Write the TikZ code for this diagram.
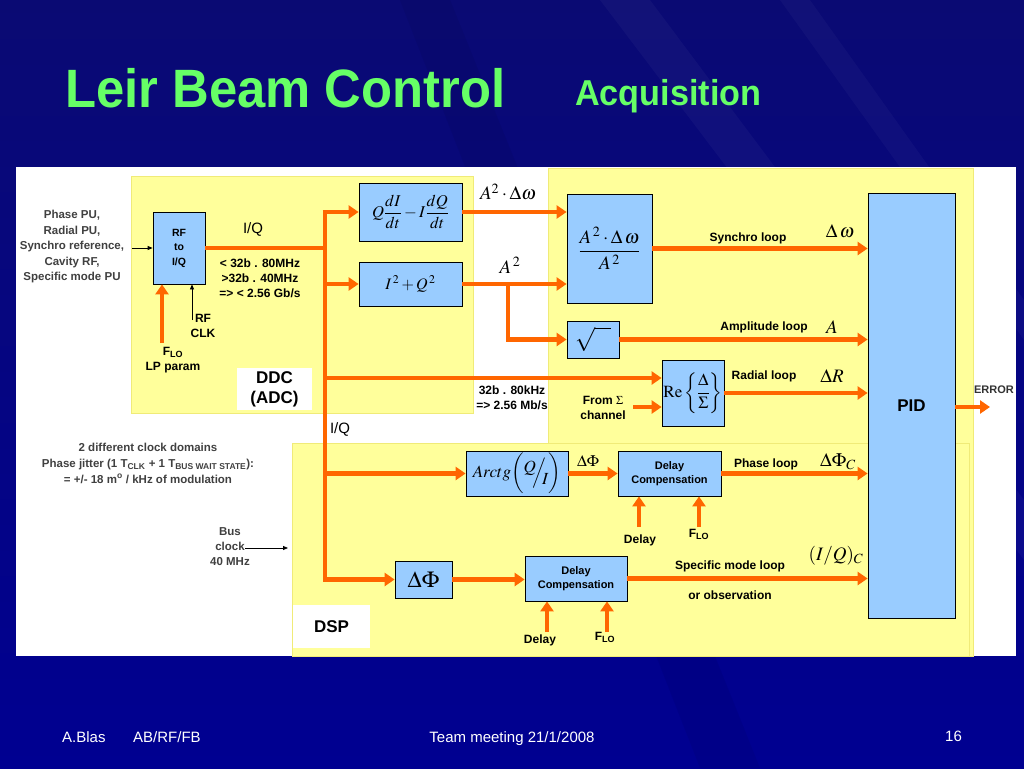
\documentclass[tikz,border=0pt]{standalone}
\usepackage{graphicx}
\usepackage{amsmath}
\usepackage{mathptmx}
\usepackage{fontspec}
\setmainfont{Liberation Sans}
\usetikzlibrary{arrows.meta,calc}
\definecolor{ylw}{RGB}{255,255,155}
\definecolor{ylwedge}{RGB}{240,235,120}
\definecolor{lblue}{RGB}{153,204,255}
\definecolor{orng}{RGB}{255,102,0}
\definecolor{tgreen}{RGB}{102,255,102}
\definecolor{bgtop}{RGB}{10,10,115}
\definecolor{bgbot}{RGB}{0,0,145}
\newcommand\fsz[2]{\fontsize{#1}{#2}\selectfont}
\tikzset{
 box/.style={draw=black, line width=0.8pt, fill=lblue, inner sep=0pt, align=center},
 lbl/.style={inner sep=0pt, align=center, font=\fsz{12}{15}\bfseries},
 mlbl/.style={inner sep=0pt, font=\fsz{19}{22}},
 oarrow/.style={draw=orng, line width=4.5pt, line join=miter, -{Triangle[length=10pt,width=13pt]}},
 oline/.style={draw=orng, line width=4.5pt},
 tarrow/.style={draw=black, line width=0.8pt, -{Triangle[length=5pt,width=4pt]}},
 ybox/.style={fill=ylw, draw=ylwedge, line width=0.6pt},
 wbox/.style={fill=white, draw=none, inner sep=0pt, align=center, font=\fsz{17}{20}\bfseries},
 foot/.style={inner sep=0pt, text=white, font=\fsz{15}{18}},
}
\begin{document}
\begin{tikzpicture}[x=1pt,y=-1pt]
\useasboundingbox (0,0) rectangle (1024,768);
% background
\shade[top color=bgtop, bottom color=bgbot] (0,0) rectangle (1024,768);
\fill[white, opacity=0.035] (600,0) -- (650,0) -- (1024,500) -- (1024,560) -- cycle;
\fill[white, opacity=0.03] (780,0) -- (810,0) -- (1024,300) -- (1024,340) -- cycle;
\fill[black, opacity=0.05] (400,0) -- (450,0) -- (760,768) -- (700,768) -- cycle;
% title
\node[anchor=base west, inner sep=0pt, text=tgreen, font=\fsz{54}{60}\bfseries] (title) at (65,107) {\scalebox{0.94}[1]{Leir Beam Control}};
\node[anchor=base west, inner sep=0pt, text=tgreen, font=\fsz{36}{40}\bfseries] (sub) at (575,105) {\scalebox{0.95}[1]{Acquisition}};
% panel
\fill[white] (16,167) rectangle (1016,656);
\filldraw[ybox] (131,176) rectangle (473,413);
\filldraw[ybox] (548,168) rectangle (973,656);
\filldraw[ybox] (292,443) rectangle (969,656);
\node[wbox, minimum width=75pt, minimum height=42pt] (ddc) at (274.5,389) {DDC\\(ADC)};
\node[wbox, minimum width=77pt, minimum height=43pt] (dsp) at (331.5,626.5) {DSP};
% boxes
\node[box, minimum width=52pt, minimum height=72pt, font=\fsz{10.5}{14.5}\bfseries] (rf) at (179,248) {RF\\to\\I/Q};
\node[box, minimum width=103pt, minimum height=58pt, font=\fsz{16.5}{18}] (qd) at (410.5,212) {$Q\dfrac{dI}{dt}-I\dfrac{dQ}{dt}$};
\node[box, minimum width=103pt, minimum height=44pt, font=\fsz{16}{18}] (iq2) at (410.5,284) {$I^{\,2}+Q^{\,2}$};
\node[box, minimum width=85pt, minimum height=109pt, font=\fsz{19}{21}] (ratio) at (609.5,248.5) {$\dfrac{A^{\,2}\cdot\Delta\,\omega}{A^{\,2}}$};
\node[box, minimum width=52pt, minimum height=37pt, font=\fsz{24}{26}] (sqrt) at (593,339.5) {$\sqrt{\phantom{w}}$};
\node[box, minimum width=62pt, minimum height=66pt, font=\fsz{17}{19}] (re) at (693,393) {$\mathrm{Re}\left\{\dfrac{\Delta}{\Sigma}\right\}$};
\node[box, minimum width=87pt, minimum height=425pt, font=\fsz{17}{20}\bfseries] (pid) at (911.5,405.5) {PID};
\node[box, minimum width=102pt, minimum height=45pt, font=\fsz{17}{19}] (arctg) at (517,473.5) {$Arctg\biggl(\raisebox{0.55ex}{$Q$}\!\!\Big/\!\!\raisebox{-0.75ex}{$I$}\biggr)$};
\node[box, minimum width=103pt, minimum height=45pt, font=\fsz{11}{14}\bfseries] (dc1) at (669.5,473.5) {Delay\\Compensation};
\node[box, minimum width=57pt, minimum height=37pt, font=\fsz{23}{25}] (dphi) at (423.5,579.5) {$\Delta\Phi$};
\node[box, minimum width=102pt, minimum height=45pt, font=\fsz{11}{14}\bfseries] (dc2) at (576,578.5) {Delay\\Compensation};
% coordinates
\coordinate (bt) at (325,212);
\coordinate (br) at (508,284);
\coordinate (reA) at ($(re.west)+(0,-15)$);
\coordinate (sig) at (633,407);
\coordinate (err) at (990,407);
\coordinate (flo) at (162,343);
\coordinate (clk) at (192,320);
\coordinate (inp) at (132,248);
\coordinate (bclkA) at (245,548);
\coordinate (bclkB) at (288,548);
\coordinate (d1a) at (639,527);
\coordinate (d1b) at (699,527);
\coordinate (d2a) at (547,632);
\coordinate (d2b) at (607,632);
% orange connectors
\draw[oline] (rf.east) -- (rf.east -| bt);
\draw[oarrow] ($(bt)+(-2.25,0)$) -- (qd.west);
\draw[oarrow] (bt) -- (bt |- dphi.west) -- (dphi.west);
\draw[oarrow] (bt |- iq2.west) -- (iq2.west);
\draw[oarrow] (bt |- reA) -- (reA);
\draw[oarrow] (bt |- arctg.west) -- (arctg.west);
\draw[oarrow] (qd.east) -- (qd.east -| ratio.west);
\draw[oarrow] (iq2.east) -- (iq2.east -| ratio.west);
\draw[oarrow] (br) -- (br |- sqrt.west) -- (sqrt.west);
\draw[oarrow] (ratio.east) -- (ratio.east -| pid.west);
\draw[oarrow] (sqrt.east) -- (sqrt.east -| pid.west);
\draw[oarrow] (re.east) -- (re.east -| pid.west);
\draw[oarrow] (sig) -- (sig -| re.west);
\draw[oarrow] (arctg.east) -- (dc1.west);
\draw[oarrow] (dc1.east) -- (dc1.east -| pid.west);
\draw[oarrow] (dphi.east) -- (dphi.east -| dc2.west);
\draw[oarrow] (dc2.east) -- (dc2.east -| pid.west);
\draw[oarrow] (pid.east |- err) -- (err);
\draw[oarrow] (flo) -- (flo |- rf.south);
\draw[oarrow] (d1a) -- (d1a |- dc1.south);
\draw[oarrow] (d1b) -- (d1b |- dc1.south);
\draw[oarrow] (d2a) -- (d2a |- dc2.south);
\draw[oarrow] (d2b) -- (d2b |- dc2.south);
% thin black arrows
\draw[tarrow] (inp) -- (rf.west);
\draw[tarrow] (clk) -- (clk |- rf.south);
\draw[tarrow] (bclkA) -- (bclkB);
% labels
\node[lbl, font=\fsz{11.5}{15.5}\bfseries, text=black!75] (inputs) at (72,247) {Phase PU,\\Radial PU,\\Synchro reference,\\Cavity RF,\\Specific mode PU};
\node[lbl, font=\fsz{15}{18}] (iqa) at (253,229) {I/Q};
\node[lbl] (rate1) at (260,278) {< 32b . 80MHz\\>32b . 40MHz\\=> < 2.56 Gb/s};
\node[lbl] (clklbl) at (203,326) {RF\\CLK};
\node[lbl] (flolbl) at (173,360) {F\textsubscript{LO}\\LP param};
\node[mlbl] (a2dw) at (508,192) {$A^{2}\cdot\Delta\omega$};
\node[mlbl] (a2) at (510,265) {$A^{\,2}$};
\node[lbl] (sync) at (748,238) {Synchro loop};
\node[mlbl] (dw) at (840,231) {$\Delta\,\omega$};
\node[lbl] (ampl) at (764,327) {Amplitude loop};
\node[mlbl] (alb) at (832,327) {$A$};
\node[lbl] (radl) at (764,376) {Radial loop};
\node[mlbl] (drl) at (832,376) {$\Delta R$};
\node[lbl] (rate2) at (512,398) {32b . 80kHz\\=> 2.56 Mb/s};
\node[lbl] (fsig) at (603,408) {From \(\Sigma\)\\channel};
\node[lbl, font=\fsz{15}{18}] (iqb) at (340,429) {I/Q};
\node[lbl, font=\fsz{11}{14}\bfseries, text=black!80] (errl) at (994,390) {ERROR};
\node[lbl, text=black!75, font=\fsz{11.5}{16}\bfseries] (clkd) at (148,463) {2 different clock domains\\Phase jitter (1 T\textsubscript{CLK} + 1 T\textsubscript{BUS WAIT STATE}):\\= +/- 18 m\textsuperscript{o} / kHz of modulation};
\node[lbl, text=black!75, font=\fsz{11.5}{15}\bfseries] (busc) at (230,547) {Bus\\clock\\40 MHz};
\node[mlbl, font=\fsz{16}{18}] (dphil) at (588,461) {$\Delta\Phi$};
\node[lbl] (phl) at (766,464) {Phase loop};
\node[mlbl] (dphic) at (838,462) {$\Delta\Phi_C$};
\node[lbl] (del1) at (640,540) {Delay};
\node[lbl] (flo1) at (699,534) {F\textsubscript{LO}};
\node[lbl] (sml) at (730,566) {Specific mode loop};
\node[mlbl] (iqc) at (836,556) {$(I/Q)_C$};
\node[lbl] (obs) at (730,595) {or observation};
\node[lbl] (del2) at (540,640) {Delay};
\node[lbl] (flo2) at (605,637) {F\textsubscript{LO}};
% footer
\node[foot, anchor=base west] (f1) at (62,742) {A.Blas};
\node[foot, anchor=base west] (f2) at (133,742) {AB/RF/FB};
\node[foot, anchor=base] (f3) at (512,742) {Team meeting 21/1/2008};
\node[foot, anchor=base west] (f4) at (945,741) {16};
\end{tikzpicture}
\end{document}
